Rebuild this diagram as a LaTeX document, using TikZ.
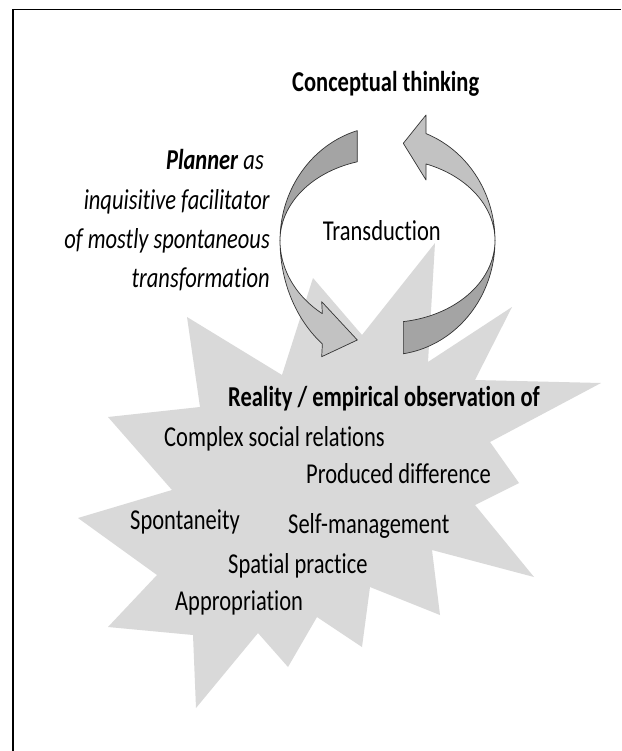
\documentclass[tikz,border=0pt]{standalone}
\usepackage{fontspec}
\setmainfont{Carlito}[Ligatures=NoCommon]
\usepackage{graphicx}
% labels are set slightly taller than wide
\newcommand\stretchy[1]{\scalebox{1}[1.28]{#1}}
\definecolor{burst}{HTML}{D9D9D9}
\definecolor{bandDark}{HTML}{A4A4A4}
\definecolor{bandLight}{HTML}{C2C2C2}
\begin{document}
\begin{tikzpicture}[x=1pt,y=-1pt,
  lbl/.style={inner sep=0pt, font=\fontsize{22.5}{27}\selectfont},
  band/.style={draw=black!80, line width=0.7pt, line join=round},
  darkband/.style={band, fill=bandDark},
  lightband/.style={band, fill=bandLight},
  arc pts/.style={samples=40, variable=\t}]
\useasboundingbox (0,0) rectangle (621,751);
\fill[white] (0,0) rectangle (621,751);

% frame (top and left edges)
\draw[line width=1.2pt] (13,751) -- (13,9.5) -- (621,9.5);

% starburst
\fill[burst] (187,317) -- (282,375) -- (313,278) -- (362,335) -- (435,243)
  -- (428,362) -- (512,307) -- (475,380) -- (601,383) -- (490,442)
  -- (519,483) -- (475,505) -- (534,577) -- (432,550) -- (440,615)
  -- (370,587) -- (362,647) -- (317,617) -- (288,667) -- (258,633)
  -- (196,708) -- (193,635) -- (108,627) -- (157,575) -- (78,518)
  -- (172,490) -- (108,417) -- (200,407) -- cycle;

% left arrow, upper half
\filldraw[darkband]
  plot[arc pts, domain=106.3:180] ({387.5+107.5*cos(\t)},{240.5-114.5*sin(\t)})
  -- plot[arc pts, domain=180:106.3] ({387.5+107.5*cos(\t)},{240.5-82*sin(\t)})
  -- cycle;
% left arrow, lower half with head
\filldraw[lightband]
  plot[arc pts, domain=180:232.7] ({387.5+107.5*cos(\t)},{240.5-130*sin(\t)})
  -- (321.7,356.7) -- (357.3,340) -- (321.7,301.7)
  -- plot[arc pts, domain=232.7:180] ({387.5+107.5*cos(\t)},{240.5-92*sin(\t)})
  -- cycle;
% right arrow, lower half
\filldraw[darkband]
  plot[arc pts, domain=278.5:360] ({387.5+107.5*cos(\t)},{240.5-114.5*sin(\t)})
  -- plot[arc pts, domain=360:278.5] ({387.5+107.5*cos(\t)},{240.5-82*sin(\t)})
  -- cycle;
% right arrow, upper half with head
\filldraw[lightband]
  plot[arc pts, domain=0:69] ({387.5+107.5*cos(\t)},{240.5-114.5*sin(\t)})
  -- (426,115) -- (403.3,143.3) -- (426,180)
  -- plot[arc pts, domain=69:0] ({387.5+107.5*cos(\t)},{240.5-82*sin(\t)})
  -- cycle;

% labels
\node[lbl, anchor=base west] (concept) at (292,91.7) {\stretchy{\textbf{Conceptual thinking}}};
\node[lbl, anchor=base east] (planner) at (264,170) {\stretchy{\textbf{\textit{Planner}} \textit{as}}};
\node[lbl, anchor=base east] (facil) at (270,210) {\stretchy{\textit{inquisitive facilitator}}};
\node[lbl, anchor=base east] (mostly) at (270,248) {\stretchy{\textit{of mostly spontaneous}}};
\node[lbl, anchor=base east] (transf) at (270,287) {\stretchy{\textit{transformation}}};
\node[lbl, anchor=base west] (transd) at (322.7,240.5) {\stretchy{Transduction}};
\node[lbl, anchor=base west] (reality) at (228,406.7) {\stretchy{\textbf{Reality / empirical observation of}}};
\node[lbl, anchor=base west] (complex) at (164,446.7) {\stretchy{Complex social relations}};
\node[lbl, anchor=base west] (produced) at (306,483.3) {\stretchy{Produced difference}};
\node[lbl, anchor=base west] (spontaneity) at (130,529) {\stretchy{Spontaneity}};
\node[lbl, anchor=base west] (selfman) at (288,533) {\stretchy{Self-management}};
\node[lbl, anchor=base west] (spatial) at (228,573.3) {\stretchy{Spatial practice}};
\node[lbl, anchor=base west] (approp) at (175,610) {\stretchy{Appropriation}};
\end{tikzpicture}
\end{document}
